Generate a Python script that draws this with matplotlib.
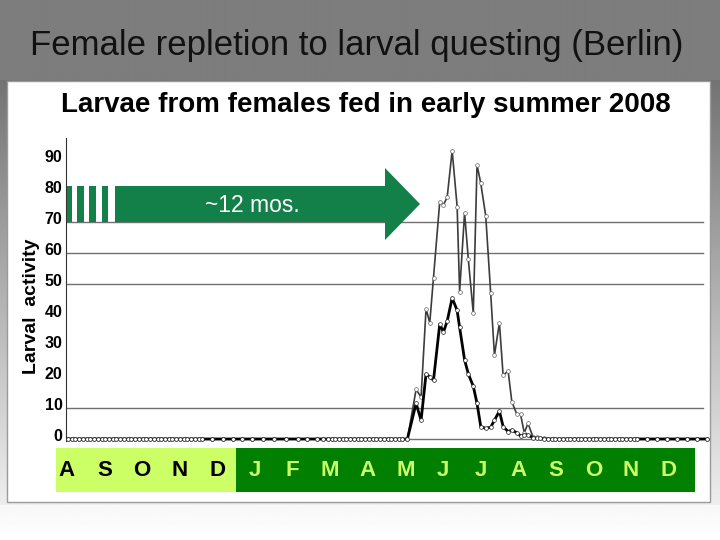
import numpy as np
import matplotlib
matplotlib.use("Agg")
import matplotlib.pyplot as plt
from matplotlib.patches import Rectangle, Polygon
from matplotlib.transforms import ScaledTranslation

plt.rcParams['font.family'] = ['Liberation Sans', 'DejaVu Sans']

# sampling days, counted from 1 Aug 2008
days_pre = [0, 3, 6, 9, 12, 15, 18, 21, 24, 27, 30, 33, 36, 39, 42, 45, 48, 51,
            54, 57, 60, 63, 66, 69, 72, 75, 78, 81, 84, 87, 90, 93, 96, 99, 102,
            105, 108, 116, 125, 133, 140, 148, 157, 166, 175, 185, 192, 200, 205,
            209, 212, 215, 218, 221, 224, 227, 230, 233, 236, 239, 242, 245, 248,
            251, 254, 257, 260, 263, 266, 269]
days_peak = [273, 280, 284, 288, 291, 294, 299, 302, 305, 309, 313, 315, 319,
             322, 326, 329, 332, 336, 340, 343, 347, 350, 354, 357, 361, 364,
             367, 370, 374, 377, 380, 383]
days_post = [386, 389, 392, 395, 398, 401, 404, 407, 410, 413, 416, 419, 422,
             425, 428, 431, 434, 437, 440, 443, 446, 449, 452, 455, 458, 466,
             474, 482, 490, 498, 506, 514]

# larval activity (two cohorts)
upper_peak = [0, 16, 13.5, 42, 37.5, 52, 76.5, 75.5, 78, 93, 75, 47.5, 73, 58,
              40.5, 88.5, 82.5, 72, 47, 27, 37.5, 20.5, 22, 12, 8, 8, 2, 5,
              0.7, 0.5, 0.4, 0.3]
lower_peak = [0, 11.5, 6, 21, 20, 19, 37, 34.5, 38, 45.5, 41.5, 36, 25.5, 21,
              17, 11.5, 4, 3.4, 3.8, 6, 9, 4, 2.4, 2.9, 2, 1, 1.3, 1.3, 0.4,
              0.2, 0.2, 0]
zeros_pre = [0] * len(days_pre)
zeros_post = [0] * len(days_post)

yticks = [0, 10, 20, 30, 40, 50, 60, 70, 80, 90]
grid_levels = [0, 10, 50, 60, 70]
months = ['A', 'S', 'O', 'N', 'D', 'J', 'F', 'M', 'A', 'M', 'J', 'J', 'A',
          'S', 'O', 'N', 'D']
n_2008 = 5

W, H = 720, 540
fig = plt.figure(figsize=(7.2, 5.4), dpi=100)


def px(x0, y0, x1, y1):
    # pixel box -> figure fraction rect
    return [x0 / W, 1 - y1 / H, (x1 - x0) / W, (y1 - y0) / H]


def pt(x, y):
    return (x / W, 1 - y / H)


# slide background
bg = fig.add_axes([0, 0, 1, 1], zorder=-10)
rows = np.ones(H)
rows[:80] = 0.49
rows[80:505] = np.linspace(0.45, 0.93, 425)
rows[505:] = np.linspace(0.97, 1.0, H - 505)
bg.imshow(np.tile(rows[:, None], (1, 8)), cmap='gray', vmin=0, vmax=1,
          aspect='auto', extent=[0, 1, 0, 1], interpolation='bilinear')
bg.set_axis_off()
bg.add_patch(Rectangle((7 / W, 1 - 502 / H), 703 / W, 421 / H,
                       facecolor='white', edgecolor='#9a9a9a', lw=1,
                       transform=bg.transAxes))

fig.text(357 / W, 1 - 46 / H, 'Female repletion to larval questing (Berlin)',
         ha='center', va='center', fontsize=25, color='#111111')
fig.text(366 / W, 1 - 105 / H, 'Larvae from females fed in early summer 2008',
         ha='center', va='center', fontsize=20, fontweight='bold')

# main chart
ax = fig.add_axes(px(66, 138, 712, 441))
x_all = days_pre + days_peak + days_post
up_all = zeros_pre + upper_peak + zeros_post
lo_all = zeros_pre + lower_peak + zeros_post
for lev in grid_levels:
    ax.axhline(lev, xmin=0, xmax=0.986, color='#707070', lw=1, zorder=1)
ax.plot(x_all, up_all, color='#3c3c3c', lw=1.2, marker='o', ms=2.7,
        mfc='white', mec='#666666', mew=0.5, zorder=3)
ax.plot(x_all, lo_all, color='black', lw=2, marker='o', ms=2.7,
        mfc='white', mec='#222222', mew=0.5, zorder=4)
ax.set_xlim(-1.6, 518)
ax.set_ylim(-0.65, 97.1)
ax.set_yticks(yticks)
ax.set_yticklabels([str(v) for v in yticks], fontsize=11.5, fontweight='bold')
ax.tick_params(axis='y', length=0, pad=2.5)
ax.set_xticks([])
for s in ['top', 'right', 'bottom']:
    ax.spines[s].set_visible(False)
ax.spines['left'].set_color('#333333')
ax.patch.set_alpha(0)
shift = ScaledTranslation(0, 0.04, fig.dpi_scale_trans)
for lab in ax.get_yticklabels():
    lab.set_transform(lab.get_transform() + shift)
fig.text(32 / W, 1 - 306 / H, 'Larval  activity', rotation=90, ha='center',
         va='center', fontsize=14, fontweight='bold')

# ~12 months arrow
green = '#13804a'
arrow = Polygon([pt(115, 186), pt(385, 186), pt(385, 168), pt(420, 204),
                 pt(385, 240), pt(385, 222), pt(115, 222)], closed=True,
                facecolor=green, edgecolor='none', transform=fig.transFigure,
                zorder=5)
fig.patches.append(arrow)
for x0, x1 in [(66.7, 71.7), (77.3, 84), (89.3, 96), (101.7, 108.3)]:
    fig.patches.append(Rectangle(pt(x0, 222), (x1 - x0) / W, 36 / H,
                                 facecolor=green, edgecolor='none',
                                 transform=fig.transFigure, zorder=5))
fig.text(252 / W, 1 - 205 / H, '~12 mos.', ha='center', va='center',
         fontsize=16.5, color='white', zorder=6)

# month band
mb = fig.add_axes(px(56, 448, 695, 492))
mb.set_xlim(-0.29, 16.70)
mb.set_ylim(0, 1)
mb.add_patch(Rectangle((-0.29, 0), n_2008 - 0.5 + 0.29, 1,
                       facecolor='#ccff66', edgecolor='none'))
mb.add_patch(Rectangle((n_2008 - 0.5, 0), 16.70 - (n_2008 - 0.5), 1,
                       facecolor='#007f00', edgecolor='none'))
for i, m in enumerate(months):
    mb.text(i, 0.5, m, ha='center', va='center', fontsize=16,
            fontweight='bold', color='black' if i < n_2008 else '#ccff66')
mb.set_axis_off()

fig.savefig('out.png', dpi=100)
